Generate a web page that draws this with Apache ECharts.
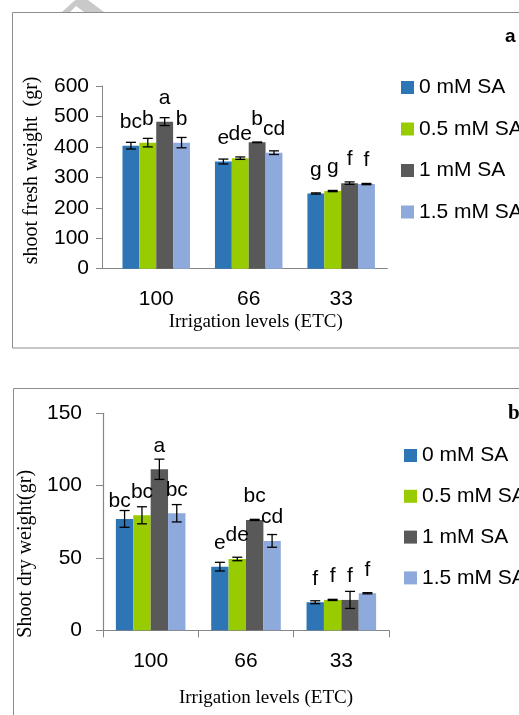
<!DOCTYPE html>
<html>
<head>
<meta charset="utf-8">
<script src="https://cdn.jsdelivr.net/npm/echarts@6/dist/echarts.min.js"></script>
<style>html,body{margin:0;padding:0;background:#fff}#c{width:519px;height:715px}</style>
</head>
<body>
<div id="c"></div>
<script>
// ---- data ----
const categories = ['100', '66', '33'];
const seriesNames = ['0 mM SA', '0.5 mM SA', '1 mM SA', '1.5 mM SA'];

// panel a: shoot fresh weight
const fresh0 = [404, 352, 247];
const fresh05 = [414, 363, 255];
const fresh1 = [483, 415, 281];
const fresh15 = [414, 381, 278];
const freshErr0 = [11, 8, 2];
const freshErr05 = [14, 4, 2];
const freshErr1 = [13, 1, 4];
const freshErr15 = [17, 6, 2];
const freshLetters0 = ['bc', 'e', 'g'];
const freshLetters05 = ['b', 'de', 'g'];
const freshLetters1 = ['a', 'b', 'f'];
const freshLetters15 = ['b', 'cd', 'f'];

// panel b: shoot dry weight
const dry0 = [77, 44, 19.4];
const dry05 = [79.5, 49.3, 21];
const dry1 = [111.3, 76.3, 21];
const dry15 = [80.9, 61.8, 25.6];
const dryErr0 = [5.8, 3, 1];
const dryErr05 = [5.9, 1.2, 0.4];
const dryErr1 = [7, 0.4, 5.9];
const dryErr15 = [6, 4.4, 0.4];
const dryLetters0 = ['bc', 'e', 'f'];
const dryLetters05 = ['bc', 'de', 'f'];
const dryLetters1 = ['a', 'bc', 'f'];
const dryLetters15 = ['bc', 'cd', 'f'];

// ---- styles ----
const colors = ['#2E75B6', '#99CC00', '#595959', '#8EA9DB'];
const SANS = '"Liberation Sans", Arial, sans-serif';
const SERIF = '"Liberation Serif", "Times New Roman", serif';
const AXIS_GRAY = '#868686';
const GAP_A = 0.27, GAP_B = 0.27;
const FS = 21;

const chart = echarts.init(document.getElementById('c'), null, {renderer: 'canvas'});

function errRender(sIdx, gap) {
  return function (params, api) {
    const cat = api.value(0), v = api.value(1), e = api.value(2);
    const c = api.coord([cat, v]);
    const band = api.size([1, 0])[0];
    const gw = band * (1 - gap);
    const bw = gw / 4;
    const x = c[0] - gw / 2 + bw * (sIdx + 0.5);
    const yT = api.coord([cat, v + e])[1];
    const yB = api.coord([cat, v - e])[1];
    const hw = 5;
    const st = {stroke: '#000', lineWidth: 1.3};
    return {
      type: 'group',
      children: [
        {type: 'line', shape: {x1: x, y1: yT, x2: x, y2: yB}, style: st},
        {type: 'line', shape: {x1: x - hw, y1: yT, x2: x + hw, y2: yT}, style: st},
        {type: 'line', shape: {x1: x - hw, y1: yB, x2: x + hw, y2: yB}, style: st}
      ]
    };
  };
}

function barSeries(name, idx, values, letters, gIdx, gap, nudge) {
  return {
    type: 'bar', name: name, xAxisIndex: gIdx, yAxisIndex: gIdx,
    data: values.map((v, i) => {
      const item = {value: v};
      if (nudge && nudge[i]) item.label = {offset: nudge[i]};
      return item;
    }),
    barGap: '0%', barCategoryGap: (gap * 100) + '%',
    itemStyle: {color: colors[idx]},
    label: {
      show: true, position: 'top', distance: 13,
      formatter: p => letters[p.dataIndex],
      fontFamily: SANS, fontSize: FS, color: '#000'
    },
    emphasis: {disabled: true},
    z: 2
  };
}

function errSeries(idx, values, errs, gIdx, gap) {
  return {
    type: 'custom', xAxisIndex: gIdx, yAxisIndex: gIdx,
    renderItem: errRender(idx, gap),
    data: values.map((v, i) => [i, v, errs[i]]),
    z: 5, silent: true
  };
}

const freshVals = [fresh0, fresh05, fresh1, fresh15];
const freshErrs = [freshErr0, freshErr05, freshErr1, freshErr15];
const freshLets = [freshLetters0, freshLetters05, freshLetters1, freshLetters15];
const dryVals = [dry0, dry05, dry1, dry15];
const dryErrs = [dryErr0, dryErr05, dryErr1, dryErr15];
const dryLets = [dryLetters0, dryLetters05, dryLetters1, dryLetters15];

const series = [];
for (let s = 0; s < 4; s++) series.push(barSeries(seriesNames[s], s, freshVals[s], freshLets[s], 0, GAP_A));
for (let s = 0; s < 4; s++) series.push(barSeries(seriesNames[s], s, dryVals[s], dryLets[s], 1, GAP_B,
  s === 0 ? [[-5, 6], null, null] : null));
for (let s = 0; s < 4; s++) series.push(errSeries(s, freshVals[s], freshErrs[s], 0, GAP_A));
for (let s = 0; s < 4; s++) series.push(errSeries(s, dryVals[s], dryErrs[s], 1, GAP_B));

const labelStyle = {fontFamily: SANS, fontSize: FS, color: '#000'};

const option = {
  animation: false,
  backgroundColor: '#fff',
  title: [
    {text: 'a', left: 505, top: 27, padding: 0,
     textStyle: {fontFamily: SANS, fontSize: 19, fontWeight: 'bold', color: '#000'}},
    {text: 'b', left: 508, top: 403, padding: 0,
     textStyle: {fontFamily: SERIF, fontSize: 21, fontWeight: 'bold', color: '#000'}}
  ],
  legend: [
    {data: seriesNames, orient: 'vertical', left: 396, top: 72, itemWidth: 13, itemHeight: 13,
     itemGap: 20.5, icon: 'rect', textStyle: {fontFamily: SANS, fontSize: FS, color: '#000', lineHeight: 20},
     selectedMode: false},
    {data: seriesNames, orient: 'vertical', left: 399, top: 440, itemWidth: 13, itemHeight: 13,
     itemGap: 19.8, icon: 'rect', textStyle: {fontFamily: SANS, fontSize: FS, color: '#000', lineHeight: 20},
     selectedMode: false}
  ],
  grid: [
    {left: 110, right: 131.6, top: 86, bottom: 446.3, containLabel: false},
    {left: 103, right: 130, top: 413.3, bottom: 84.7, containLabel: false}
  ],
  xAxis: [
    {type: 'category', gridIndex: 0, data: categories,
     axisLine: {lineStyle: {color: AXIS_GRAY, width: 1}}, axisTick: {show: false},
     axisLabel: Object.assign({margin: 20}, labelStyle),
     name: 'Irrigation levels (ETC)', nameLocation: 'middle', nameGap: 44,
     nameTextStyle: {fontFamily: SERIF, fontSize: 19, color: '#000', padding: [0, 0, 0, 14]}},
    {type: 'category', gridIndex: 1, data: categories,
     axisLine: {lineStyle: {color: AXIS_GRAY, width: 1}},
     axisTick: {show: true, length: 7, lineStyle: {color: AXIS_GRAY}},
     axisLabel: Object.assign({margin: 20}, labelStyle),
     name: 'Irrigation levels (ETC)', nameLocation: 'middle', nameGap: 58,
     nameTextStyle: {fontFamily: SERIF, fontSize: 19, color: '#000', padding: [0, 0, 0, 40]}}
  ],
  yAxis: [
    {type: 'value', gridIndex: 0, min: 0, max: 600, interval: 100, offset: 8,
     axisLine: {show: true, lineStyle: {color: AXIS_GRAY, width: 1}},
     axisTick: {show: true, length: 6, lineStyle: {color: AXIS_GRAY}},
     splitLine: {show: false},
     axisLabel: Object.assign({margin: 13}, labelStyle),
     name: 'shoot fresh weight  (gr)', nameLocation: 'middle', nameGap: 60,
     nameTextStyle: {fontFamily: SERIF, fontSize: 20, color: '#000', padding: [0, 0, 0, 14]}},
    {type: 'value', gridIndex: 1, min: 0, max: 150, interval: 50,
     axisLine: {show: true, lineStyle: {color: AXIS_GRAY, width: 1.2}},
     axisTick: {show: true, length: 7, lineStyle: {color: AXIS_GRAY}},
     splitLine: {show: false},
     axisLabel: Object.assign({margin: 21}, labelStyle),
     name: 'Shoot dry weight(gr)', nameLocation: 'middle', nameGap: 61,
     nameTextStyle: {fontFamily: SERIF, fontSize: 20, color: '#000', padding: [0, 64, 0, 0]}}
  ],
  graphic: [
    {type: 'polygon', silent: true, z: 0,
     shape: {points: [[62, 12], [74, 1], [76, 0], [88, 0], [104, 12], [84, 12], [76, 6], [70, 12]]},
     style: {fill: '#c9c9c9'}},
    {type: 'rect', silent: true, z: 0, shape: {x: 12.5, y: 12.5, width: 600, height: 335.5},
     style: {fill: 'none', stroke: '#8c8c8c', lineWidth: 1}},
    {type: 'rect', silent: true, z: 0, shape: {x: 13.5, y: 388.5, width: 600, height: 400},
     style: {fill: 'none', stroke: '#8c8c8c', lineWidth: 1}},
    {type: 'line', silent: true, z: 1, shape: {x1: 102, y1: 268.5, x2: 110.5, y2: 268.5},
     style: {stroke: AXIS_GRAY, lineWidth: 1}}
  ],
  series: series
};
chart.setOption(option);
</script>
</body>
</html>
